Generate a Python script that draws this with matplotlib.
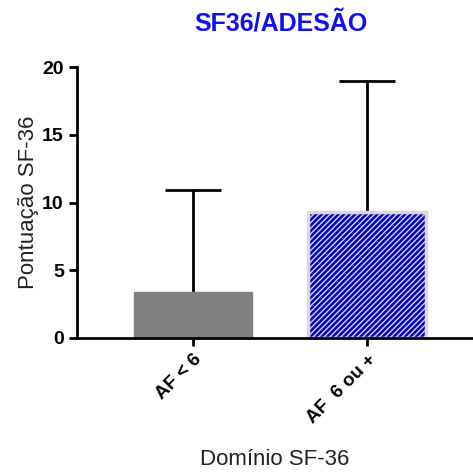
import matplotlib.pyplot as plt
import matplotlib as mpl

mpl.rcParams['font.family'] = ['Liberation Sans', 'DejaVu Sans']
mpl.rcParams['hatch.color'] = 'white'
mpl.rcParams['hatch.linewidth'] = 1.0

# data
groups = ['AF < 6', 'AF  6 ou +']
means = [3.4, 9.3]
upper_err = [7.5, 9.7]

fig = plt.figure(figsize=(4.73, 4.74), dpi=100)
ax = fig.add_axes([77/473, 1-338/474, 395/473, (338-67)/474])

x = range(len(groups))
ax.bar(x[0], means[0], width=0.68, color='#808080', edgecolor='#808080', zorder=2)
ax.bar(x[1], means[1], width=0.68, color='#0000cc', edgecolor='#d9d9d9',
       linewidth=2.5, hatch='//////', zorder=2)
eb = ax.errorbar(list(x), means, yerr=[[0, 0], upper_err], fmt='none', ecolor='black',
                 elinewidth=2, capsize=20, capthick=2, zorder=1)
# hide the lower caps (only upper error is shown)
eb[1][0].set_visible(False)

ax.set_xlim(-0.667, 1.603)
ax.set_ylim(0, 20)
ax.set_yticks([0, 5, 10, 15, 20])
ax.set_xticks(list(x))
ax.set_xticklabels(groups, rotation=45, ha='right', rotation_mode='anchor',
                   fontsize=13.5, fontweight='bold')
for lab in ax.get_yticklabels():
    lab.set_fontweight('bold')
    lab.set_fontsize(14)

ax.spines['top'].set_visible(False)
ax.spines['right'].set_visible(False)
ax.spines['left'].set_linewidth(2)
ax.spines['bottom'].set_linewidth(2)
ax.tick_params(width=2, length=6)

ax.set_ylabel('Pontuação SF-36', fontsize=16, color='#222222', labelpad=2)
ax.set_xlabel('Domínio SF-36', fontsize=16, color='#222222', labelpad=16)
ax.set_title('SF36/ADESÃO', color='#1010f0', fontweight='bold', fontsize=18,
             x=0.516, pad=26)

plt.savefig('out.png', dpi=100)
